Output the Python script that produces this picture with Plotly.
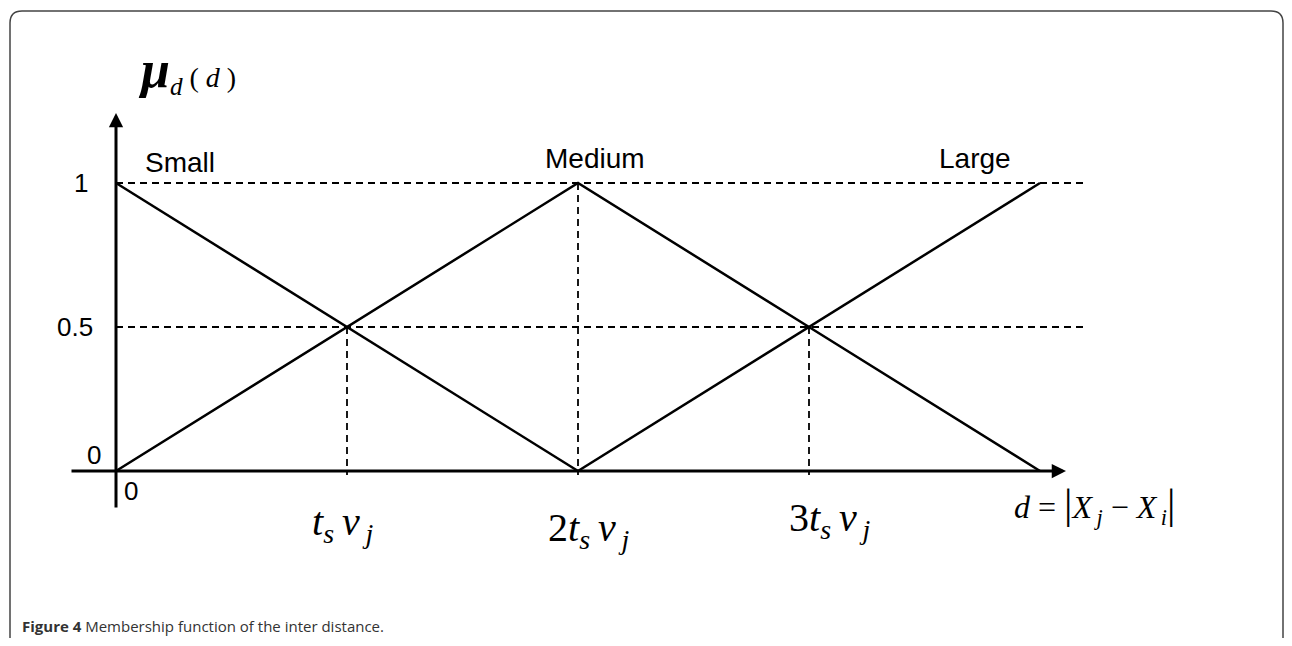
import plotly.graph_objects as go

# membership functions, d in units of t_s*v_j
small_x = [0, 1, 2]
small_y = [1, 0.5, 0]
medium_x = [0, 1, 2, 3, 4]
medium_y = [0, 0.5, 1, 0.5, 0]
large_x = [2, 3, 4]
large_y = [0, 0.5, 1]

set_names = ["Small", "Medium", "Large"]
y_levels = [1, 0.5]
y_tick_text = ["1", "0.5"]
x_ticks = [1, 2, 3]
x_tick_text = [
    "<i>t</i><sub><i>s</i></sub>&#8201;<i>v</i><sub>&#8201;<i>j</i></sub>",
    "2<i>t</i><sub><i>s</i></sub>&#8201;<i>v</i><sub>&#8201;<i>j</i></sub>",
    "3<i>t</i><sub><i>s</i></sub>&#8201;<i>v</i><sub>&#8201;<i>j</i></sub>",
]

# page has an 8px body margin, so the figure is a bit smaller than the window
OFF = 8
W, H = 1292 - 2 * OFF, 646 - 2 * OFF
X0, XU = 116 - OFF, 231     # pixel of d=0, pixels per unit
Y0, YU = 471 - OFF, 288     # pixel of mu=0, pixels per unit


def dx(p):
    # window pixel -> data x
    return (p - OFF - X0) / XU


def dy(p):
    # window pixel -> data y
    return (Y0 - (p - OFF)) / YU


fig = go.Figure()

line = dict(color="black", width=2.5)
fig.add_trace(go.Scatter(x=small_x, y=small_y, mode="lines", line=line, name="Small"))
fig.add_trace(go.Scatter(x=medium_x, y=medium_y, mode="lines", line=line, name="Medium"))
fig.add_trace(go.Scatter(x=large_x, y=large_y, mode="lines", line=line, name="Large"))

dash = dict(color="black", width=1.8, dash="7px,5px")
for lv in y_levels:
    fig.add_shape(type="line", x0=0, x1=dx(1084), y0=lv, y1=lv, line=dash, layer="below")
for xv, top in zip(x_ticks, [0.5, 1, 0.5]):
    fig.add_shape(type="line", x0=xv, x1=xv, y0=top, y1=dy(475), line=dash, layer="below")

# axes with arrow heads
fig.add_annotation(x=dx(1066), y=0, ax=dx(70), ay=0, axref="x", ayref="y", text="",
                   showarrow=True, arrowhead=2, arrowwidth=3, arrowsize=0.95, arrowcolor="black")
fig.add_annotation(x=0, y=dy(113), ax=0, ay=dy(509), axref="x", ayref="y", text="",
                   showarrow=True, arrowhead=2, arrowwidth=3, arrowsize=0.95, arrowcolor="black")

sans = dict(family="Liberation Sans, Arial", size=28, color="black")
tick_font = dict(family="Liberation Sans, Arial", size=26, color="black")
serif = dict(family="Liberation Serif, Times New Roman", size=40, color="black")

for name, cx, cy in zip(set_names, [180, 595, 975], [162, 158, 158]):
    fig.add_annotation(x=dx(cx), y=dy(cy), text=name, showarrow=False, font=sans)

for lv, tt, rx in zip(y_levels, y_tick_text, [90, 95]):
    fig.add_annotation(x=dx(rx), y=lv, text=tt, showarrow=False, font=tick_font, xanchor="right")
fig.add_annotation(x=dx(103), y=dy(455), text="0", showarrow=False, font=tick_font, xanchor="right")
fig.add_annotation(x=dx(122), y=dy(491), text="0", showarrow=False, font=tick_font, xanchor="left")

for cx, tt, cy in zip([342, 588, 829], x_tick_text, [524, 530, 520]):
    fig.add_annotation(x=dx(cx), y=dy(cy), text=tt, showarrow=False, font=serif)

fig.add_annotation(x=dx(1012), y=dy(505), xanchor="left",
                   text="<i>d</i> = <span style='font-size:42px'>|</span><i>X</i>"
                        "<sub>&#8201;<i>j</i></sub> − <i>X</i><sub>&#8201;<i>i</i></sub>"
                        "<span style='font-size:42px'>|</span>",
                   showarrow=False, font=dict(family="Liberation Serif", size=32, color="black"))

fig.add_annotation(x=dx(136), y=dy(70), xanchor="left",
                   text="<span style='font-size:52px'><b><i>μ</i></b></span>"
                        "<span style='font-size:36px'><sub><i>d</i></sub></span>"
                        "<span style='font-size:28px'> ( <i>d</i> )</span>",
                   showarrow=False, font=dict(family="Liberation Serif", size=36, color="black"))

# caption
fig.add_annotation(xref="paper", yref="paper", x=(20 - OFF) / W, y=1 - (626 - OFF) / H,
                   xanchor="left", yanchor="middle",
                   text="<b>Figure 4</b> Membership function of the inter distance.",
                   showarrow=False, font=dict(family="Open Sans", size=15, color="#333333"))


# rounded border (open at the bottom)
def px(v):
    return (v - OFF) / W


def py(v):
    return 1 - (v - OFF) / H


r = 12
path = (f"M {px(10)},{py(646)} L {px(10)},{py(11 + r)} Q {px(10)},{py(11)} {px(10 + r)},{py(11)} "
        f"L {px(1283 - r)},{py(11)} Q {px(1283)},{py(11)} {px(1283)},{py(11 + r)} L {px(1283)},{py(646)}")
fig.add_shape(type="path", path=path, xref="paper", yref="paper",
              line=dict(color="#444444", width=1.5))

fig.update_layout(
    width=W, height=H,
    margin=dict(l=0, r=0, t=0, b=0),
    paper_bgcolor="white", plot_bgcolor="white",
    showlegend=False,
    xaxis=dict(range=[-X0 / XU, (W - X0) / XU], visible=False, fixedrange=True),
    yaxis=dict(range=[-(H - Y0) / YU, Y0 / YU], visible=False, fixedrange=True),
)

fig.write_html("out.html")
